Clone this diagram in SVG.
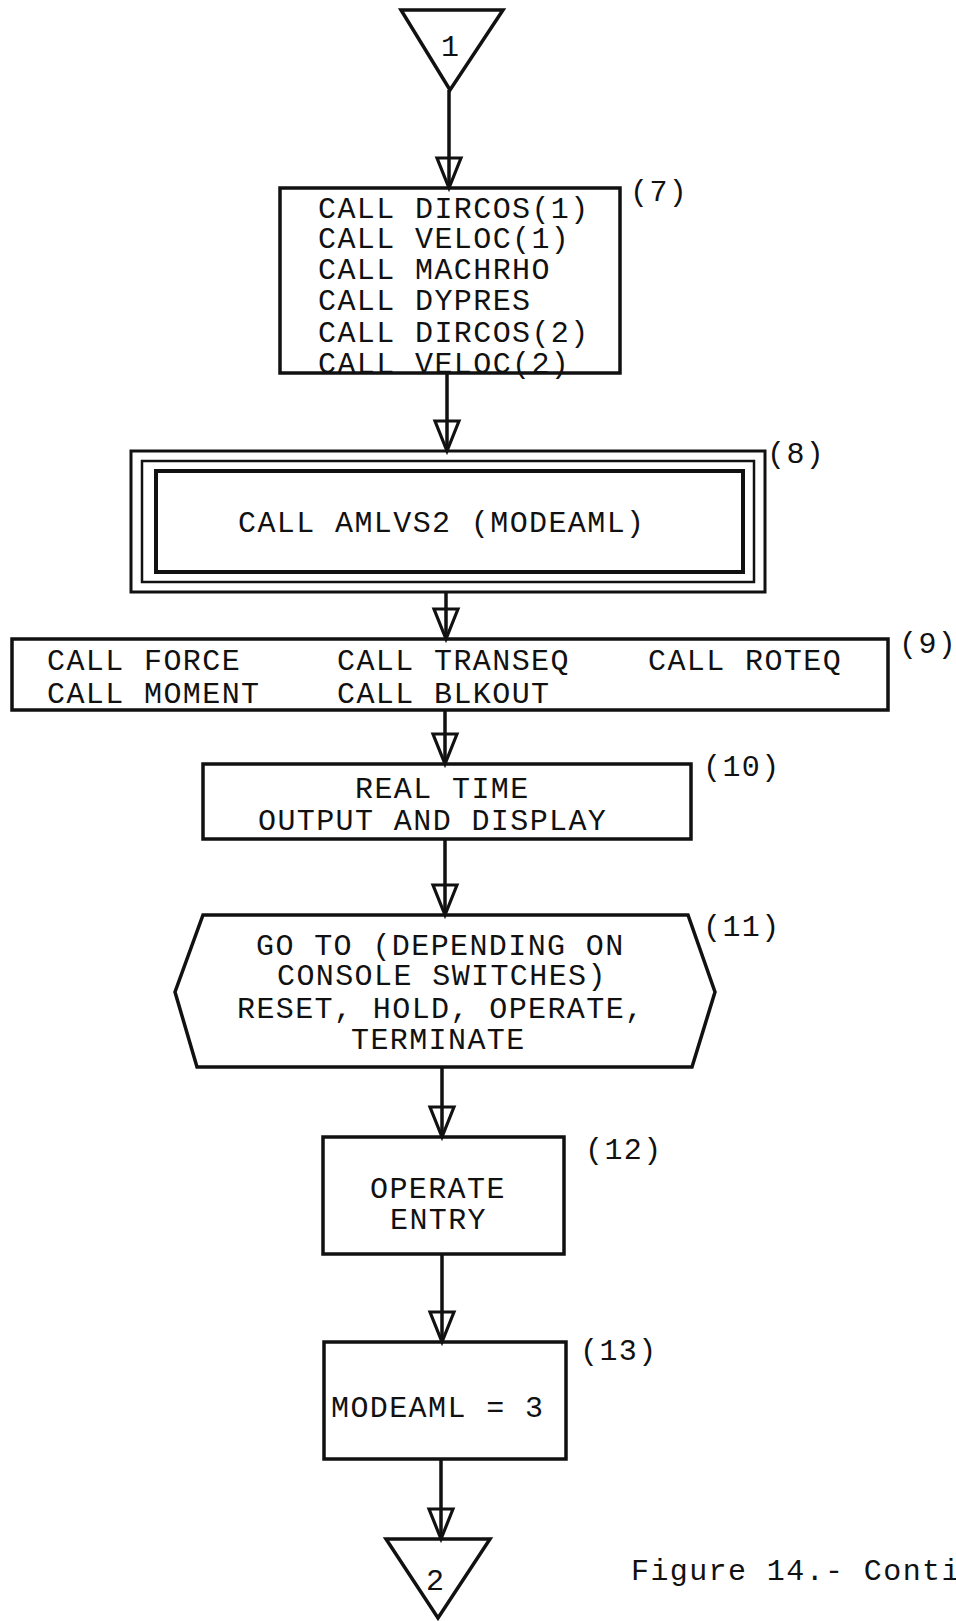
<svg xmlns="http://www.w3.org/2000/svg" width="956" height="1621" viewBox="0 0 956 1621">
<style>
.s{fill:none;stroke:#111;stroke-width:3.5;stroke-linejoin:miter}
.t{font-family:"Liberation Mono","DejaVu Sans Mono",monospace;font-size:30px;letter-spacing:1.4px;fill:#111}
.c{fill:none;stroke:#111;stroke-width:3.5}
</style>
<defs>
<marker id="ah" viewBox="-2 -2 34 28" refX="30" refY="12" markerWidth="34" markerHeight="28" markerUnits="userSpaceOnUse" orient="auto" overflow="visible">
<path d="M0,0 L30,12 L0,24 Z" fill="none" stroke="#111" stroke-width="3.2"/>
</marker>
</defs>
<rect width="956" height="1621" fill="#fff"/>
<g id="connectors">
<line class="c" x1="449" y1="90" x2="449" y2="188" marker-end="url(#ah)"/>
<line class="c" x1="447" y1="373" x2="447" y2="451" marker-end="url(#ah)"/>
<line class="c" x1="446" y1="592" x2="446" y2="639" marker-end="url(#ah)"/>
<line class="c" x1="445" y1="710" x2="445" y2="764" marker-end="url(#ah)"/>
<line class="c" x1="445" y1="839" x2="445" y2="915" marker-end="url(#ah)"/>
<line class="c" x1="442" y1="1067" x2="442" y2="1137" marker-end="url(#ah)"/>
<line class="c" x1="442" y1="1254" x2="442" y2="1342" marker-end="url(#ah)"/>
<line class="c" x1="441" y1="1459" x2="441" y2="1539" marker-end="url(#ah)"/>
</g>
<g id="start">
<polygon class="s" points="401,10 503,10 450,90"/>
<text class="t" x="441" y="56">1</text>
</g>
<g id="n7">
<rect class="s" x="280" y="188" width="340" height="185"/>
<text class="t" x="318" y="218">CALL DIRCOS(1)</text>
<text class="t" x="318" y="248">CALL VELOC(1)</text>
<text class="t" x="318" y="279">CALL MACHRHO</text>
<text class="t" x="318" y="310">CALL DYPRES</text>
<text class="t" x="318" y="342">CALL DIRCOS(2)</text>
<text class="t" x="318" y="373">CALL VELOC(2)</text>
<text class="t" x="630" y="201">(7)</text>
</g>
<g id="n8">
<rect x="131" y="451" width="634" height="141" fill="none" stroke="#111" stroke-width="3"/>
<rect x="142" y="461" width="612" height="121" fill="none" stroke="#111" stroke-width="2.5"/>
<rect x="156" y="471" width="587" height="101" fill="none" stroke="#111" stroke-width="4"/>
<text class="t" x="238" y="532">CALL AMLVS2 (MODEAML)</text>
<text class="t" x="767" y="463">(8)</text>
</g>
<g id="n9">
<rect class="s" x="12" y="639" width="876" height="71"/>
<text class="t" x="47" y="670">CALL FORCE</text>
<text class="t" x="337" y="670">CALL TRANSEQ</text>
<text class="t" x="648" y="670">CALL ROTEQ</text>
<text class="t" x="47" y="703">CALL MOMENT</text>
<text class="t" x="337" y="703">CALL BLKOUT</text>
<text class="t" x="899" y="653">(9)</text>
</g>
<g id="n10">
<rect class="s" x="203" y="764" width="488" height="75"/>
<text class="t" x="355" y="798">REAL TIME</text>
<text class="t" x="258" y="830">OUTPUT AND DISPLAY</text>
<text class="t" x="703" y="776">(10)</text>
</g>
<g id="n11">
<polygon class="s" points="203,915 688,915 715,992 692,1067 197,1067 175,992"/>
<text class="t" x="256" y="955">GO TO (DEPENDING ON</text>
<text class="t" x="277" y="985">CONSOLE SWITCHES)</text>
<text class="t" x="237" y="1018">RESET, HOLD, OPERATE,</text>
<text class="t" x="351" y="1049">TERMINATE</text>
<text class="t" x="703" y="936">(11)</text>
</g>
<g id="n12">
<rect class="s" x="323" y="1137" width="241" height="117"/>
<text class="t" x="370" y="1198">OPERATE</text>
<text class="t" x="390" y="1229">ENTRY</text>
<text class="t" x="585" y="1159">(12)</text>
</g>
<g id="n13">
<rect class="s" x="324" y="1342" width="242" height="117"/>
<text class="t" x="331" y="1417">MODEAML = 3</text>
<text class="t" x="580" y="1360">(13)</text>
</g>
<g id="end">
<polygon class="s" points="386,1539 490,1539 438,1618"/>
<text class="t" x="426" y="1590">2</text>
</g>
<text class="t" x="631" y="1580">Figure 14.- Conti</text>
</svg>
